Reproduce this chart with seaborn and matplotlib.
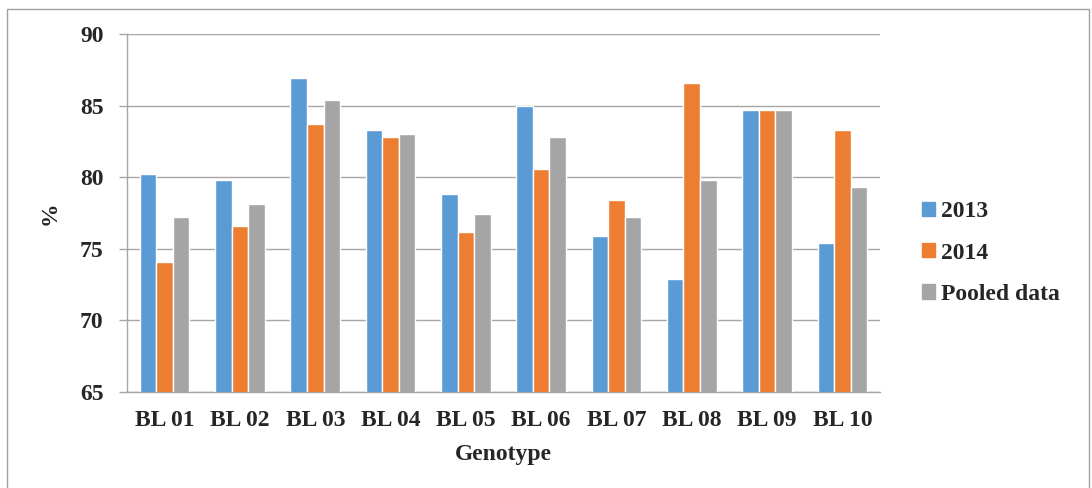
import matplotlib
matplotlib.use("Agg")
import matplotlib.pyplot as plt
import matplotlib.patches as mpatches
import seaborn as sns
import pandas as pd

genotypes = ["BL 01", "BL 02", "BL 03", "BL 04", "BL 05",
             "BL 06", "BL 07", "BL 08", "BL 09", "BL 10"]
series_names = ["2013", "2014", "Pooled data"]
vals_2013 = [80.2, 79.8, 86.9, 83.3, 78.8, 85.0, 75.9, 72.9, 84.7, 75.4]
vals_2014 = [74.1, 76.6, 83.7, 82.8, 76.2, 80.6, 78.4, 86.6, 84.7, 83.3]
vals_pooled = [77.2, 78.1, 85.4, 83.0, 77.4, 82.8, 77.2, 79.8, 84.7, 79.3]
colors = ["#5B9BD5", "#ED7D31", "#A5A5A5"]
y_ticks = [65, 70, 75, 80, 85, 90]

rows = []
for name, vals in zip(series_names, [vals_2013, vals_2014, vals_pooled]):
    for g, v in zip(genotypes, vals):
        rows.append({"Genotype": g, "Series": name, "Value": v})
df = pd.DataFrame(rows)

sns.set_theme(style="white")
plt.rcParams["font.family"] = ["Liberation Serif", "DejaVu Serif"]
plt.rcParams["font.weight"] = "bold"

FS = 17

fig = plt.figure(figsize=(10.92, 4.88), dpi=100)
ax = fig.add_axes([127/1092, 1-392/488, (880-127)/1092, (392-34)/488])

sns.barplot(data=df, x="Genotype", y="Value", hue="Series", order=genotypes,
            hue_order=series_names, palette=colors, width=0.66, ax=ax,
            saturation=1, errorbar=None, zorder=3)

ax.set_ylim(65, 90)
ax.set_yticks(y_ticks)
ax.set_xlim(-0.5, len(genotypes) - 0.5)
ax.yaxis.grid(True, color="#A6A6A6", linewidth=1.0, zorder=0)
ax.set_axisbelow(True)
for side in ["top", "right"]:
    ax.spines[side].set_visible(False)
for side in ["left", "bottom"]:
    ax.spines[side].set_color("#A6A6A6")
    ax.spines[side].set_linewidth(1.0)
ax.tick_params(axis="y", which="major", left=True, length=6, width=1.0,
               color="#A6A6A6", labelsize=FS, pad=11)
ax.tick_params(axis="x", which="major", bottom=False, labelsize=FS, pad=7)
for lab in ax.get_xticklabels() + ax.get_yticklabels():
    lab.set_fontweight("bold")

ax.set_xlabel("Genotype", fontsize=FS, fontweight="bold")
ax.set_ylabel("%", fontsize=FS, fontweight="bold")
ax.xaxis.set_label_coords(0.5, -0.146)
ax.yaxis.set_label_coords(-0.088, 0.5)

handles = [mpatches.Patch(color=c, label=n) for c, n in zip(colors, series_names)]
ax.legend(handles=handles, loc="center left", bbox_to_anchor=(1.027, 0.388),
          frameon=False, handlelength=0.55, handleheight=0.55,
          handletextpad=0.28, labelspacing=0.86,
          prop={"weight": "bold", "size": FS})

border = mpatches.Rectangle((7/1092, -0.05), (1089-7)/1092, 1.05 - 9/488,
                            transform=fig.transFigure, fill=False,
                            edgecolor="#A0A0A0", linewidth=1.0)
fig.patches.append(border)

fig.savefig("out.png", dpi=100)
